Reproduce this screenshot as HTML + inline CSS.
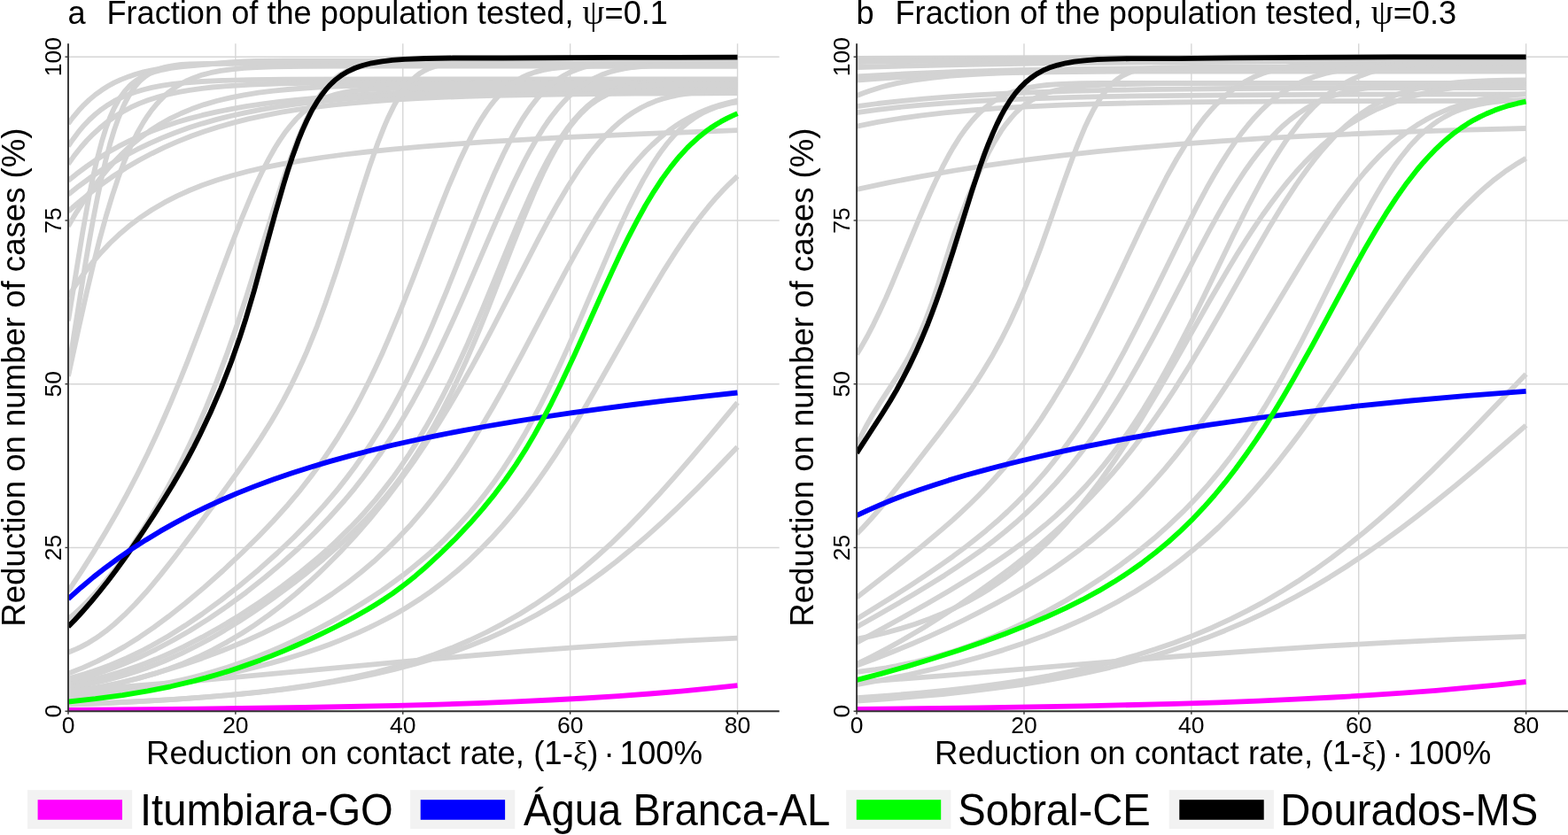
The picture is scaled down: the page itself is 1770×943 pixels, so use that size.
<!DOCTYPE html>
<html><head><meta charset="utf-8"><title>Reduction on number of cases</title><style>html,body{margin:0;padding:0;background:#fff;overflow:hidden}svg{display:block}</style></head><body>
<svg width="1770" height="943" viewBox="0 0 1770 943" font-family='"Liberation Sans", Arial, Helvetica, sans-serif'>
<defs><clipPath id="ca"><rect x="77.00" y="49.20" width="802.70" height="754.00"/></clipPath><clipPath id="cb"><rect x="967.10" y="49.20" width="802.90" height="754.00"/></clipPath></defs>
<rect width="1770" height="943" fill="#fff"/>
<line x1="77.00" y1="803.20" x2="879.70" y2="803.20" stroke="#d6d6d6" stroke-width="1.4"/>
<line x1="77.00" y1="618.45" x2="879.70" y2="618.45" stroke="#d6d6d6" stroke-width="1.4"/>
<line x1="77.00" y1="433.70" x2="879.70" y2="433.70" stroke="#d6d6d6" stroke-width="1.4"/>
<line x1="77.00" y1="248.95" x2="879.70" y2="248.95" stroke="#d6d6d6" stroke-width="1.4"/>
<line x1="77.00" y1="64.20" x2="879.70" y2="64.20" stroke="#d6d6d6" stroke-width="1.4"/>
<line x1="77.00" y1="49.20" x2="77.00" y2="803.20" stroke="#d6d6d6" stroke-width="1.4"/>
<line x1="265.88" y1="49.20" x2="265.88" y2="803.20" stroke="#d6d6d6" stroke-width="1.4"/>
<line x1="454.76" y1="49.20" x2="454.76" y2="803.20" stroke="#d6d6d6" stroke-width="1.4"/>
<line x1="643.64" y1="49.20" x2="643.64" y2="803.20" stroke="#d6d6d6" stroke-width="1.4"/>
<line x1="832.52" y1="49.20" x2="832.52" y2="803.20" stroke="#d6d6d6" stroke-width="1.4"/>
<g clip-path="url(#ca)">
<path d="M77.0,139.8 L81.7,133.4 L88.8,124.8 L93.5,119.7 L100.6,112.9 L107.7,106.9 L114.8,101.8 L121.9,97.3 L128.9,93.4 L136.0,90.1 L145.5,86.4 L152.6,84.0 L162.0,81.4 L171.4,79.3 L183.2,77.2 L195.1,75.5 L206.9,74.3 L228.1,72.7 L254.1,71.6 L284.8,70.8 L324.9,70.4 L433.5,70.1 L832.5,70.1" fill="none" stroke="#d3d3d3" stroke-width="5.8" stroke-linejoin="round" stroke-linecap="butt"/>
<path d="M77.0,165.2 L81.7,158.2 L88.8,148.7 L93.5,143.1 L100.6,135.5 L107.7,129.0 L114.8,123.3 L121.9,118.4 L128.9,114.2 L136.0,110.6 L145.5,106.6 L152.6,104.0 L162.0,101.2 L171.4,98.9 L183.2,96.7 L195.1,94.9 L206.9,93.6 L228.1,92.0 L251.7,90.9 L282.4,90.1 L322.5,89.6 L428.8,89.4 L832.5,89.3" fill="none" stroke="#d3d3d3" stroke-width="5.8" stroke-linejoin="round" stroke-linecap="butt"/>
<path d="M77.0,185.2 L84.1,175.4 L91.2,166.5 L98.2,158.5 L105.3,151.3 L112.4,144.8 L121.9,137.1 L128.9,132.1 L138.4,126.3 L147.8,121.2 L157.3,116.9 L166.7,113.3 L178.5,109.5 L190.3,106.4 L202.1,103.8 L213.9,101.8 L228.1,99.8 L239.9,98.5 L254.1,97.3 L282.4,95.6 L317.8,94.4 L360.3,93.6 L409.9,93.3 L478.4,93.1 L832.5,93.0" fill="none" stroke="#d3d3d3" stroke-width="5.8" stroke-linejoin="round" stroke-linecap="butt"/>
<path d="M77.0,204.1 L86.4,196.4 L98.2,187.6 L110.1,179.5 L121.9,172.1 L133.7,165.4 L145.5,159.4 L157.3,153.9 L171.4,148.0 L185.6,142.7 L199.8,138.0 L213.9,133.9 L228.1,130.2 L244.6,126.4 L261.2,123.1 L277.7,120.2 L296.6,117.4 L315.5,114.9 L334.3,112.8 L355.6,110.8 L376.8,109.1 L400.5,107.5 L426.4,106.0 L454.8,104.7 L483.1,103.6 L546.8,101.9 L624.8,100.5 L719.2,99.6 L832.5,99.0" fill="none" stroke="#d3d3d3" stroke-width="5.8" stroke-linejoin="round" stroke-linecap="butt"/>
<path d="M77.0,219.7 L88.8,210.3 L103.0,199.9 L114.8,191.9 L128.9,183.0 L140.7,176.2 L154.9,168.7 L169.1,161.8 L183.2,155.6 L197.4,150.0 L213.9,144.1 L228.1,139.6 L244.6,134.9 L261.2,130.8 L277.7,127.1 L294.2,123.9 L313.1,120.7 L332.0,117.9 L350.9,115.5 L372.1,113.3 L393.4,111.3 L417.0,109.5 L440.6,108.1 L466.6,106.7 L492.5,105.7 L553.9,103.9 L624.8,102.7 L714.5,101.9 L832.5,101.4" fill="none" stroke="#d3d3d3" stroke-width="5.8" stroke-linejoin="round" stroke-linecap="butt"/>
<path d="M77.0,238.7 L88.8,228.5 L103.0,217.0 L114.8,208.1 L128.9,198.2 L143.1,189.1 L157.3,180.8 L171.4,173.3 L185.6,166.4 L199.8,160.1 L216.3,153.5 L230.5,148.5 L247.0,143.2 L263.5,138.6 L280.0,134.4 L298.9,130.3 L317.8,126.7 L336.7,123.7 L355.6,121.0 L376.8,118.4 L398.1,116.3 L421.7,114.3 L445.3,112.6 L471.3,111.1 L497.3,109.9 L525.6,108.9 L558.6,107.9 L629.5,106.6 L716.8,105.7 L832.5,105.2" fill="none" stroke="#d3d3d3" stroke-width="5.8" stroke-linejoin="round" stroke-linecap="butt"/>
<path d="M77.0,255.4 L86.4,239.6 L95.9,225.0 L105.3,211.5 L114.8,199.2 L124.2,188.0 L128.9,182.8 L136.0,175.4 L145.5,166.4 L150.2,162.3 L157.3,156.5 L169.1,147.8 L180.9,140.2 L192.7,133.6 L204.5,128.0 L216.3,123.1 L230.5,118.1 L244.6,114.0 L261.2,110.1 L275.3,107.3 L291.9,104.7 L308.4,102.6 L324.9,101.0 L343.8,99.5 L365.0,98.2 L386.3,97.3 L412.3,96.4 L466.6,95.4 L539.8,94.8 L641.3,94.6 L832.5,94.5" fill="none" stroke="#d3d3d3" stroke-width="5.8" stroke-linejoin="round" stroke-linecap="butt"/>
<path d="M77.0,362.4 L93.5,261.0 L100.6,221.6 L105.3,198.4 L110.1,177.9 L114.8,160.2 L119.5,145.1 L124.2,132.5 L128.9,122.0 L133.7,113.3 L136.0,109.6 L140.7,103.1 L145.5,97.9 L147.8,95.6 L152.6,91.8 L154.9,90.1 L159.6,87.2 L164.4,84.9 L169.1,82.9 L176.2,80.6 L183.2,78.8 L192.7,77.0 L204.5,75.4 L223.4,73.5 L258.8,70.4 L275.3,69.4 L289.5,68.9 L322.5,68.6 L832.5,68.6" fill="none" stroke="#d3d3d3" stroke-width="5.8" stroke-linejoin="round" stroke-linecap="butt"/>
<path d="M77.0,418.7 L95.9,300.8 L100.6,273.1 L105.3,246.9 L110.1,222.5 L114.8,200.3 L119.5,180.2 L124.2,162.4 L128.9,146.9 L133.7,133.4 L138.4,122.0 L140.7,117.0 L145.5,108.1 L150.2,100.8 L152.6,97.7 L157.3,92.2 L159.6,89.9 L164.4,86.0 L169.1,82.8 L173.8,80.3 L178.5,78.3 L185.6,76.1 L190.3,75.0 L197.4,73.8 L204.5,73.0 L213.9,72.4 L235.2,71.8 L287.1,71.6 L832.5,71.6" fill="none" stroke="#d3d3d3" stroke-width="5.8" stroke-linejoin="round" stroke-linecap="butt"/>
<path d="M77.0,425.0 L88.8,370.6 L98.2,328.6 L105.3,298.8 L112.4,270.8 L119.5,244.9 L126.6,221.3 L133.7,200.1 L140.7,181.3 L147.8,164.7 L154.9,150.3 L162.0,137.9 L166.7,130.7 L171.4,124.1 L176.2,118.3 L180.9,113.1 L185.6,108.4 L190.3,104.3 L195.1,100.7 L199.8,97.4 L204.5,94.6 L211.6,90.9 L218.7,87.9 L228.1,84.6 L237.5,82.2 L249.4,79.9 L261.2,78.3 L275.3,76.9 L289.5,76.1 L308.4,75.4 L343.8,74.8 L395.7,74.6 L832.5,74.5" fill="none" stroke="#d3d3d3" stroke-width="5.8" stroke-linejoin="round" stroke-linecap="butt"/>
<path d="M77.0,335.1 L86.4,320.5 L95.9,307.3 L105.3,295.3 L114.8,284.4 L124.2,274.5 L136.0,263.4 L147.8,253.6 L159.6,244.8 L171.4,237.0 L185.6,228.7 L199.8,221.4 L213.9,215.0 L228.1,209.3 L244.6,203.5 L261.2,198.5 L280.0,193.5 L298.9,189.1 L317.8,185.3 L339.1,181.6 L362.7,178.0 L388.7,174.5 L414.6,171.5 L443.0,168.6 L476.0,165.6 L511.4,162.9 L549.2,160.2 L589.3,157.8 L631.8,155.4 L676.7,153.3 L726.3,151.1 L832.5,147.2" fill="none" stroke="#d3d3d3" stroke-width="5.8" stroke-linejoin="round" stroke-linecap="butt"/>
<path d="M77.0,667.7 L91.2,646.4 L105.3,624.1 L119.5,600.6 L131.3,580.1 L143.1,558.6 L154.9,536.0 L166.7,512.2 L176.2,492.1 L185.6,471.0 L192.7,454.7 L202.1,432.0 L211.6,408.4 L228.1,365.2 L258.8,282.7 L273.0,246.3 L284.8,218.0 L291.9,202.4 L296.6,192.6 L303.7,178.9 L310.7,166.5 L315.5,158.9 L322.5,148.7 L327.3,142.6 L334.3,134.5 L341.4,127.5 L348.5,121.7 L355.6,116.9 L362.7,113.0 L369.8,109.8 L374.5,108.1 L379.2,106.6 L388.7,104.3 L398.1,102.7 L409.9,101.4 L424.1,100.5 L445.3,99.9 L478.4,99.7 L832.5,99.7" fill="none" stroke="#d3d3d3" stroke-width="5.8" stroke-linejoin="round" stroke-linecap="butt"/>
<path d="M77.0,699.1 L84.1,693.1 L91.2,686.6 L98.2,679.7 L107.7,669.7 L114.8,661.7 L124.2,650.2 L131.3,641.2 L140.7,628.4 L147.8,618.3 L157.3,604.1 L166.7,589.3 L173.8,577.6 L183.2,561.4 L190.3,548.6 L199.8,530.8 L206.9,516.8 L213.9,502.2 L221.0,486.9 L232.8,459.9 L244.6,430.6 L256.4,399.0 L265.9,372.0 L277.7,336.3 L287.1,306.4 L308.4,237.8 L317.8,208.3 L327.3,180.7 L332.0,167.9 L336.7,155.8 L341.4,144.6 L346.2,134.2 L350.9,124.8 L355.6,116.4 L360.3,108.9 L365.0,102.4 L369.8,96.7 L372.1,94.2 L376.8,89.8 L381.6,86.1 L383.9,84.5 L388.7,81.7 L393.4,79.5 L400.5,77.0 L407.5,75.2 L414.6,74.1 L421.7,73.4 L431.2,72.8 L445.3,72.5 L468.9,72.3 L832.5,72.3" fill="none" stroke="#d3d3d3" stroke-width="5.8" stroke-linejoin="round" stroke-linecap="butt"/>
<path d="M77.0,736.7 L86.4,732.9 L91.2,730.6 L98.2,726.9 L107.7,721.1 L112.4,717.9 L119.5,712.7 L128.9,705.0 L140.7,694.2 L152.6,682.3 L164.4,669.3 L171.4,661.1 L180.9,649.6 L197.4,628.7 L218.7,600.6 L247.0,562.3 L268.2,533.0 L282.4,512.8 L294.2,495.1 L306.0,476.2 L313.1,464.1 L320.2,451.4 L327.3,437.9 L334.3,423.5 L341.4,408.2 L346.2,397.4 L353.2,380.2 L358.0,368.1 L367.4,342.5 L379.2,307.8 L388.7,278.3 L407.5,217.8 L417.0,188.6 L426.4,161.7 L433.5,143.6 L438.2,132.7 L443.0,122.9 L445.3,118.3 L450.0,110.0 L454.8,102.8 L459.5,96.5 L464.2,91.2 L468.9,86.8 L473.6,83.1 L478.4,80.2 L483.1,77.8 L490.2,75.2 L494.9,74.0 L502.0,72.7 L509.1,71.9 L518.5,71.3 L532.7,71.0 L553.9,70.9 L832.5,70.9" fill="none" stroke="#d3d3d3" stroke-width="5.8" stroke-linejoin="round" stroke-linecap="butt"/>
<path d="M77.0,760.6 L93.5,754.1 L110.1,746.7 L124.2,739.4 L140.7,730.1 L157.3,719.7 L173.8,708.4 L190.3,696.2 L209.2,681.3 L230.5,663.4 L251.7,644.5 L273.0,624.5 L291.9,605.8 L308.4,588.5 L324.9,570.2 L339.1,553.3 L353.2,535.1 L362.7,522.2 L372.1,508.4 L381.6,493.8 L391.0,478.3 L400.5,461.7 L407.5,448.5 L417.0,429.8 L424.1,415.1 L431.2,399.7 L438.2,383.6 L452.4,349.6 L466.6,313.6 L494.9,239.4 L506.7,209.8 L518.5,182.3 L528.0,162.2 L535.0,148.6 L539.8,140.3 L544.5,132.6 L549.2,125.4 L553.9,118.9 L558.6,113.0 L563.4,107.6 L570.4,100.6 L575.2,96.6 L582.3,91.6 L589.3,87.4 L596.4,84.2 L603.5,81.6 L612.9,79.1 L622.4,77.4 L631.8,76.3 L641.3,75.6 L650.7,75.1 L674.3,74.7 L832.5,74.5" fill="none" stroke="#d3d3d3" stroke-width="5.8" stroke-linejoin="round" stroke-linecap="butt"/>
<path d="M77.0,766.5 L95.9,761.1 L105.3,758.1 L114.8,754.7 L124.2,751.1 L133.7,747.2 L143.1,743.1 L152.6,738.7 L162.0,734.0 L171.4,729.0 L190.3,718.2 L209.2,706.3 L228.1,693.5 L249.4,677.9 L270.6,661.2 L291.9,643.4 L313.1,624.5 L332.0,606.5 L348.5,589.6 L365.0,571.6 L374.5,560.7 L381.6,552.1 L391.0,540.1 L400.5,527.5 L409.9,514.1 L419.3,500.0 L428.8,484.9 L435.9,473.0 L445.3,456.3 L452.4,443.1 L459.5,429.2 L468.9,409.8 L478.4,389.4 L487.8,367.9 L504.3,328.3 L535.0,251.2 L546.8,222.2 L558.6,194.7 L568.1,174.3 L575.2,160.1 L582.3,147.0 L589.3,135.1 L594.1,127.8 L598.8,121.0 L605.9,111.9 L610.6,106.5 L617.7,99.3 L622.4,95.2 L629.5,89.7 L636.6,85.3 L643.6,81.6 L650.7,78.7 L657.8,76.3 L667.2,74.0 L676.7,72.4 L686.1,71.3 L695.6,70.5 L707.4,70.0 L719.2,69.7 L749.9,69.4 L832.5,69.4" fill="none" stroke="#d3d3d3" stroke-width="5.8" stroke-linejoin="round" stroke-linecap="butt"/>
<path d="M77.0,770.2 L88.8,767.1 L98.2,764.3 L117.1,758.3 L128.9,754.0 L138.4,750.3 L157.3,742.3 L176.2,733.3 L195.1,723.3 L213.9,712.5 L235.2,699.1 L256.4,684.7 L277.7,669.1 L298.9,652.3 L317.8,636.4 L336.7,619.5 L346.2,610.5 L355.6,601.2 L372.1,584.0 L388.7,565.5 L400.5,551.3 L409.9,539.3 L419.3,526.6 L428.8,513.3 L438.2,499.2 L447.7,484.4 L457.1,468.7 L466.6,452.2 L476.0,434.8 L485.5,416.5 L494.9,397.3 L504.3,377.3 L513.8,356.6 L523.2,335.3 L556.3,258.6 L568.1,231.8 L579.9,206.3 L591.7,182.4 L598.8,169.2 L605.9,156.8 L612.9,145.4 L617.7,138.3 L622.4,131.7 L629.5,122.7 L636.6,114.6 L643.6,107.5 L650.7,101.3 L657.8,96.0 L664.9,91.5 L672.0,87.8 L679.1,84.6 L688.5,81.3 L695.6,79.4 L705.0,77.4 L714.5,76.0 L723.9,75.0 L733.4,74.3 L745.2,73.8 L775.9,73.2 L832.5,73.1" fill="none" stroke="#d3d3d3" stroke-width="5.8" stroke-linejoin="round" stroke-linecap="butt"/>
<path d="M77.0,773.4 L88.8,771.1 L100.6,768.4 L121.9,763.0 L133.7,759.5 L143.1,756.5 L154.9,752.4 L164.4,749.0 L176.2,744.3 L185.6,740.3 L195.1,736.1 L206.9,730.6 L228.1,719.7 L249.4,707.8 L270.6,694.9 L282.4,687.3 L294.2,679.4 L306.0,671.2 L317.8,662.6 L339.1,646.3 L350.9,636.6 L360.3,628.6 L369.8,620.3 L379.2,611.6 L395.7,595.4 L405.2,585.5 L412.3,577.7 L424.1,564.1 L433.5,552.4 L443.0,540.1 L452.4,526.9 L461.8,513.0 L471.3,498.1 L480.7,482.3 L490.2,465.4 L499.6,447.6 L509.1,428.7 L518.5,408.8 L528.0,388.0 L544.5,349.5 L575.2,274.9 L587.0,246.8 L598.8,220.1 L605.9,204.9 L610.6,195.3 L617.7,181.7 L624.8,169.0 L631.8,157.5 L636.6,150.4 L641.3,143.8 L648.4,134.9 L655.4,127.1 L662.5,120.3 L667.2,116.4 L674.3,111.2 L679.1,108.3 L686.1,104.5 L693.2,101.4 L700.3,98.9 L707.4,96.9 L716.8,94.9 L723.9,93.8 L733.4,92.8 L742.8,92.0 L754.6,91.5 L782.9,90.9 L832.5,90.8" fill="none" stroke="#d3d3d3" stroke-width="5.8" stroke-linejoin="round" stroke-linecap="butt"/>
<path d="M77.0,776.4 L88.8,774.5 L100.6,772.3 L112.4,769.8 L121.9,767.6 L133.7,764.5 L143.1,761.7 L154.9,758.0 L164.4,754.7 L176.2,750.3 L185.6,746.5 L204.5,738.1 L213.9,733.5 L225.7,727.5 L235.2,722.4 L247.0,715.7 L258.8,708.6 L270.6,701.2 L282.4,693.6 L294.2,685.6 L308.4,675.6 L320.2,667.0 L332.0,658.1 L343.8,648.9 L365.0,631.4 L376.8,621.1 L386.3,612.5 L395.7,603.6 L405.2,594.2 L414.6,584.4 L421.7,576.7 L433.5,563.0 L443.0,551.4 L452.4,539.0 L461.8,525.8 L471.3,511.6 L480.7,496.5 L490.2,480.2 L499.6,462.8 L509.1,444.2 L516.1,429.5 L525.6,408.9 L535.0,387.1 L542.1,370.1 L551.6,346.7 L579.9,274.0 L591.7,244.4 L603.5,216.4 L612.9,195.7 L620.0,181.4 L627.1,168.3 L634.2,156.5 L638.9,149.3 L643.6,142.7 L650.7,133.9 L655.4,128.7 L662.5,121.9 L667.2,117.9 L674.3,112.9 L679.1,110.1 L686.1,106.5 L693.2,103.7 L700.3,101.5 L707.4,99.8 L714.5,98.5 L721.6,97.5 L731.0,96.7 L749.9,95.7 L775.9,95.3 L832.5,95.2" fill="none" stroke="#d3d3d3" stroke-width="5.8" stroke-linejoin="round" stroke-linecap="butt"/>
<path d="M77.0,780.8 L98.2,778.0 L117.1,774.8 L136.0,771.0 L154.9,766.4 L173.8,760.9 L190.3,755.4 L206.9,749.1 L223.4,742.0 L239.9,734.0 L256.4,725.1 L273.0,715.3 L287.1,706.1 L303.7,694.4 L317.8,683.7 L334.3,670.2 L348.5,657.8 L358.0,649.1 L367.4,640.0 L383.9,623.4 L400.5,605.6 L417.0,586.6 L433.5,566.4 L450.0,544.8 L466.6,521.8 L480.7,500.8 L494.9,478.7 L506.7,459.4 L518.5,439.3 L532.7,414.1 L544.5,392.3 L556.3,370.0 L608.2,269.1 L620.0,247.1 L629.5,230.2 L641.3,210.3 L653.1,191.9 L660.2,181.8 L664.9,175.3 L672.0,166.3 L676.7,160.7 L683.8,152.8 L690.9,145.7 L697.9,139.3 L707.4,131.8 L714.5,127.0 L723.9,121.5 L731.0,118.0 L740.4,114.1 L747.5,111.7 L757.0,109.2 L766.4,107.2 L778.2,105.4 L790.0,104.1 L801.8,103.3 L816.0,102.6 L832.5,102.2" fill="none" stroke="#d3d3d3" stroke-width="5.8" stroke-linejoin="round" stroke-linecap="butt"/>
<path d="M77.0,783.8 L103.0,778.7 L128.9,772.8 L154.9,766.3 L178.5,759.6 L204.5,751.5 L228.1,743.4 L251.7,734.5 L275.3,724.8 L296.6,715.2 L317.8,704.7 L336.7,694.5 L355.6,683.3 L365.0,677.3 L374.5,671.0 L391.0,659.2 L407.5,646.3 L421.7,634.3 L435.9,621.2 L450.0,607.1 L464.2,591.9 L476.0,578.2 L490.2,560.5 L502.0,544.8 L513.8,528.1 L525.6,510.4 L535.0,495.5 L546.8,476.1 L556.3,460.0 L568.1,439.1 L589.3,399.8 L636.6,310.0 L648.4,288.3 L660.2,267.3 L672.0,247.4 L683.8,228.7 L695.6,211.4 L707.4,195.5 L714.5,186.8 L721.6,178.6 L728.6,171.0 L735.7,164.0 L742.8,157.5 L749.9,151.5 L757.0,146.1 L764.1,141.2 L771.1,136.7 L780.6,131.5 L787.7,128.0 L797.1,124.0 L804.2,121.3 L813.6,118.3 L823.1,115.8 L832.5,113.6" fill="none" stroke="#d3d3d3" stroke-width="5.8" stroke-linejoin="round" stroke-linecap="butt"/>
<path d="M77.0,785.2 L93.5,784.1 L107.7,783.0 L121.9,781.6 L136.0,780.0 L150.2,778.1 L164.4,775.9 L178.5,773.4 L190.3,771.1 L204.5,768.0 L216.3,765.2 L230.5,761.5 L242.3,758.1 L256.4,753.7 L268.2,749.7 L280.0,745.5 L291.9,741.0 L303.7,736.2 L317.8,730.1 L332.0,723.6 L343.8,717.9 L358.0,710.7 L369.8,704.4 L383.9,696.5 L395.7,689.5 L407.5,682.3 L419.3,674.7 L431.2,666.8 L443.0,658.4 L454.8,649.7 L464.2,642.3 L476.0,632.6 L485.5,624.5 L494.9,615.9 L502.0,609.1 L516.1,594.7 L530.3,579.1 L542.1,564.9 L549.2,555.8 L556.3,546.3 L568.1,529.4 L579.9,511.1 L591.7,491.3 L601.1,474.4 L610.6,456.5 L620.0,437.6 L631.8,412.7 L641.3,391.9 L650.7,370.3 L690.9,276.3 L700.3,255.1 L709.7,234.9 L719.2,216.1 L726.3,202.9 L735.7,186.9 L742.8,176.0 L747.5,169.4 L752.2,163.2 L757.0,157.5 L761.7,152.2 L766.4,147.4 L771.1,143.0 L775.9,139.0 L782.9,133.8 L787.7,130.8 L794.7,126.8 L799.5,124.6 L806.5,121.7 L811.3,120.1 L818.4,118.1 L825.4,116.5 L832.5,115.3" fill="none" stroke="#d3d3d3" stroke-width="5.8" stroke-linejoin="round" stroke-linecap="butt"/>
<path d="M77.0,789.5 L112.4,785.4 L147.8,780.7 L183.2,775.2 L216.3,769.3 L247.0,763.1 L277.7,756.2 L306.0,748.9 L320.2,744.9 L334.3,740.6 L348.5,736.0 L360.3,732.0 L372.1,727.7 L383.9,723.1 L405.2,714.1 L417.0,708.7 L426.4,704.0 L438.2,697.9 L447.7,692.7 L457.1,687.2 L466.6,681.3 L476.0,675.2 L485.5,668.6 L494.9,661.7 L502.0,656.3 L516.1,644.7 L528.0,634.3 L542.1,620.7 L553.9,608.6 L568.1,592.9 L579.9,578.9 L591.7,563.9 L603.5,548.1 L615.3,531.4 L627.1,513.8 L638.9,495.4 L650.7,476.2 L662.5,456.4 L674.3,436.0 L716.8,360.9 L733.4,332.2 L749.9,304.6 L764.1,282.3 L773.5,268.3 L782.9,255.0 L792.4,242.5 L799.5,233.7 L808.9,222.7 L816.0,215.0 L823.1,207.8 L832.5,198.9" fill="none" stroke="#d3d3d3" stroke-width="5.8" stroke-linejoin="round" stroke-linecap="butt"/>
<path d="M77.0,795.6 L121.9,793.8 L162.0,791.9 L199.8,789.7 L232.8,787.2 L263.5,784.5 L294.2,781.3 L322.5,777.8 L350.9,773.6 L376.8,769.1 L400.5,764.4 L424.1,759.0 L447.7,752.8 L468.9,746.4 L490.2,739.2 L511.4,731.1 L530.3,723.0 L549.2,714.0 L568.1,704.1 L587.0,693.2 L603.5,682.8 L622.4,669.8 L638.9,657.5 L655.4,644.2 L674.3,628.0 L690.9,612.8 L707.4,596.7 L723.9,579.8 L742.8,559.6 L761.7,538.4 L780.6,516.6 L801.8,491.5 L832.5,454.6" fill="none" stroke="#d3d3d3" stroke-width="5.8" stroke-linejoin="round" stroke-linecap="butt"/>
<path d="M77.0,795.7 L119.5,794.0 L157.3,792.2 L192.7,790.2 L228.1,787.7 L258.8,785.2 L289.5,782.1 L317.8,778.9 L346.2,775.1 L372.1,771.0 L398.1,766.3 L421.7,761.5 L445.3,756.0 L468.9,749.7 L490.2,743.4 L511.4,736.3 L530.3,729.4 L549.2,721.8 L568.1,713.4 L587.0,704.2 L605.9,694.2 L624.8,683.3 L643.6,671.5 L662.5,658.8 L679.1,646.9 L695.6,634.2 L714.5,618.8 L731.0,604.6 L749.9,587.6 L768.8,569.7 L787.7,551.1 L808.9,529.4 L832.5,504.7" fill="none" stroke="#d3d3d3" stroke-width="5.8" stroke-linejoin="round" stroke-linecap="butt"/>
<path d="M77.0,780.0 L147.8,774.8 L221.0,768.8 L291.9,762.4 L480.7,744.9 L537.4,740.0 L589.3,735.7 L650.7,731.1 L709.7,727.2 L771.1,723.7 L832.5,720.6" fill="none" stroke="#d3d3d3" stroke-width="5.8" stroke-linejoin="round" stroke-linecap="butt"/>
<path d="M77.0,707.7 L84.1,700.5 L93.5,690.2 L103.0,679.4 L112.4,668.0 L121.9,656.0 L131.3,643.5 L140.7,630.5 L150.2,617.0 L162.0,599.5 L173.8,581.5 L185.6,562.8 L195.1,547.3 L204.5,531.1 L211.6,518.3 L218.7,505.0 L225.7,491.0 L237.5,466.0 L249.4,438.6 L256.4,420.8 L261.2,408.3 L270.6,381.4 L277.7,359.3 L287.1,327.5 L310.7,240.9 L320.2,208.0 L324.9,192.7 L329.6,178.3 L336.7,158.7 L341.4,147.1 L346.2,136.5 L350.9,127.0 L353.2,122.7 L358.0,114.7 L362.7,107.8 L367.4,101.7 L372.1,96.4 L374.5,94.0 L379.2,89.7 L386.3,84.4 L393.4,80.3 L400.5,77.0 L405.2,75.2 L409.9,73.7 L419.3,71.3 L431.2,69.3 L443.0,67.9 L457.1,66.9 L480.7,66.0 L511.4,65.5 L568.1,65.5 L693.2,64.9 L832.5,64.7" fill="none" stroke="#000000" stroke-width="5.8" stroke-linejoin="round" stroke-linecap="butt"/>
<path d="M77.0,676.3 L91.2,663.7 L105.3,651.9 L119.5,640.8 L133.7,630.4 L147.8,620.6 L164.4,609.9 L180.9,599.9 L197.4,590.6 L213.9,581.9 L232.8,572.6 L249.4,565.0 L268.2,556.9 L287.1,549.4 L308.4,541.5 L329.6,534.2 L350.9,527.4 L372.1,521.1 L395.7,514.6 L419.3,508.5 L443.0,502.8 L468.9,497.0 L494.9,491.6 L523.2,486.1 L551.6,481.0 L582.3,475.9 L612.9,471.0 L646.0,466.2 L679.1,461.6 L714.5,457.0 L752.2,452.4 L792.4,447.9 L832.5,443.5" fill="none" stroke="#0000ff" stroke-width="5.8" stroke-linejoin="round" stroke-linecap="butt"/>
<path d="M77.0,792.5 L107.7,789.2 L138.4,785.1 L166.7,780.4 L192.7,775.3 L218.7,769.1 L232.8,765.4 L244.6,762.0 L258.8,757.7 L270.6,753.8 L294.2,745.4 L306.0,740.9 L320.2,735.1 L334.3,729.0 L348.5,722.6 L362.7,715.9 L376.8,709.0 L391.0,701.7 L402.8,695.2 L414.6,688.5 L424.1,682.7 L433.5,676.7 L443.0,670.3 L452.4,663.4 L459.5,658.0 L468.9,650.4 L478.4,642.3 L494.9,627.2 L513.8,608.7 L530.3,591.3 L544.5,575.2 L558.6,557.8 L570.4,542.0 L582.3,524.9 L594.1,506.4 L603.5,490.4 L612.9,473.4 L622.4,455.3 L631.8,436.2 L648.4,400.9 L679.1,332.5 L690.9,306.6 L700.3,286.5 L709.7,267.3 L719.2,249.1 L728.6,232.0 L738.1,216.3 L747.5,201.9 L757.0,188.9 L766.4,177.2 L775.9,166.9 L780.6,162.3 L787.7,155.8 L797.1,148.2 L801.8,144.8 L808.9,140.2 L813.6,137.4 L820.7,133.6 L825.4,131.3 L832.5,128.2" fill="none" stroke="#00ff00" stroke-width="5.8" stroke-linejoin="round" stroke-linecap="butt"/>
<path d="M77.0,801.8 L221.0,800.7 L343.8,799.0 L447.7,796.9 L494.9,795.6 L539.8,794.1 L582.3,792.4 L622.4,790.5 L660.2,788.5 L697.9,786.1 L733.4,783.5 L768.8,780.6 L801.8,777.4 L832.5,774.2" fill="none" stroke="#ff00ff" stroke-width="5.8" stroke-linejoin="round" stroke-linecap="butt"/>
</g>
<line x1="77.00" y1="49.20" x2="77.00" y2="804.10" stroke="#333333" stroke-width="1.9"/>
<line x1="76.10" y1="803.20" x2="879.70" y2="803.20" stroke="#333333" stroke-width="1.9"/>
<line x1="73.50" y1="803.20" x2="77.00" y2="803.20" stroke="#333333" stroke-width="1.4"/>
<line x1="73.50" y1="618.45" x2="77.00" y2="618.45" stroke="#333333" stroke-width="1.4"/>
<line x1="73.50" y1="433.70" x2="77.00" y2="433.70" stroke="#333333" stroke-width="1.4"/>
<line x1="73.50" y1="248.95" x2="77.00" y2="248.95" stroke="#333333" stroke-width="1.4"/>
<line x1="73.50" y1="64.20" x2="77.00" y2="64.20" stroke="#333333" stroke-width="1.4"/>
<line x1="77.00" y1="803.20" x2="77.00" y2="806.70" stroke="#333333" stroke-width="1.4"/>
<line x1="265.88" y1="803.20" x2="265.88" y2="806.70" stroke="#333333" stroke-width="1.4"/>
<line x1="454.76" y1="803.20" x2="454.76" y2="806.70" stroke="#333333" stroke-width="1.4"/>
<line x1="643.64" y1="803.20" x2="643.64" y2="806.70" stroke="#333333" stroke-width="1.4"/>
<line x1="832.52" y1="803.20" x2="832.52" y2="806.70" stroke="#333333" stroke-width="1.4"/>
<text x="0" y="0" transform="translate(69.00,803.20) rotate(-90)" text-anchor="middle" font-size="26.5" fill="#000">0</text>
<text x="0" y="0" transform="translate(69.00,618.45) rotate(-90)" text-anchor="middle" font-size="26.5" fill="#000">25</text>
<text x="0" y="0" transform="translate(69.00,433.70) rotate(-90)" text-anchor="middle" font-size="26.5" fill="#000">50</text>
<text x="0" y="0" transform="translate(69.00,248.95) rotate(-90)" text-anchor="middle" font-size="26.5" fill="#000">75</text>
<text x="0" y="0" transform="translate(69.00,64.20) rotate(-90)" text-anchor="middle" font-size="26.5" fill="#000">100</text>
<text x="77.00" y="828.3" text-anchor="middle" font-size="26.5" fill="#000">0</text>
<text x="265.88" y="828.3" text-anchor="middle" font-size="26.5" fill="#000">20</text>
<text x="454.76" y="828.3" text-anchor="middle" font-size="26.5" fill="#000">40</text>
<text x="643.64" y="828.3" text-anchor="middle" font-size="26.5" fill="#000">60</text>
<text x="832.52" y="828.3" text-anchor="middle" font-size="26.5" fill="#000">80</text>
<text transform="translate(27.70,707.70) rotate(-90)" x="0" y="0" font-size="36.6" fill="#000">Reduction on number of cases (%)</text>
<text x="165.00" y="862.5" font-size="36.6" fill="#000">Reduction on contact rate, (1-<tspan font-family='Liberation Serif', serif>ξ</tspan>)<tspan dx="6">·</tspan><tspan dx="6">100%</tspan></text>
<text x="76.50" y="27.1" font-size="36.2" fill="#000">a</text>
<text x="120.40" y="27.1" font-size="36.2" fill="#000">Fraction of the population tested, <tspan font-family='Liberation Serif', serif font-size="39.5">ψ</tspan><tspan dx="0.3">=0.1</tspan></text>
<line x1="967.10" y1="803.20" x2="1770.00" y2="803.20" stroke="#d6d6d6" stroke-width="1.4"/>
<line x1="967.10" y1="618.45" x2="1770.00" y2="618.45" stroke="#d6d6d6" stroke-width="1.4"/>
<line x1="967.10" y1="433.70" x2="1770.00" y2="433.70" stroke="#d6d6d6" stroke-width="1.4"/>
<line x1="967.10" y1="248.95" x2="1770.00" y2="248.95" stroke="#d6d6d6" stroke-width="1.4"/>
<line x1="967.10" y1="64.20" x2="1770.00" y2="64.20" stroke="#d6d6d6" stroke-width="1.4"/>
<line x1="967.10" y1="49.20" x2="967.10" y2="803.20" stroke="#d6d6d6" stroke-width="1.4"/>
<line x1="1155.98" y1="49.20" x2="1155.98" y2="803.20" stroke="#d6d6d6" stroke-width="1.4"/>
<line x1="1344.86" y1="49.20" x2="1344.86" y2="803.20" stroke="#d6d6d6" stroke-width="1.4"/>
<line x1="1533.74" y1="49.20" x2="1533.74" y2="803.20" stroke="#d6d6d6" stroke-width="1.4"/>
<line x1="1722.62" y1="49.20" x2="1722.62" y2="803.20" stroke="#d6d6d6" stroke-width="1.4"/>
<g clip-path="url(#cb)">
<path d="M967.1,66.0 L1106.4,65.3 L1269.3,64.8 L1722.6,64.3" fill="none" stroke="#d3d3d3" stroke-width="5.8" stroke-linejoin="round" stroke-linecap="butt"/>
<path d="M967.1,70.1 L1026.1,69.1 L1092.2,68.2 L1245.7,66.9 L1441.7,66.2 L1722.6,65.8" fill="none" stroke="#d3d3d3" stroke-width="5.8" stroke-linejoin="round" stroke-linecap="butt"/>
<path d="M967.1,76.0 L1028.5,74.3 L1094.6,72.9 L1167.8,71.7 L1250.4,70.8 L1342.5,70.1 L1446.4,69.5 L1722.6,68.9" fill="none" stroke="#d3d3d3" stroke-width="5.8" stroke-linejoin="round" stroke-linecap="butt"/>
<path d="M967.1,86.3 L1021.4,83.4 L1082.8,81.0 L1148.9,79.2 L1226.8,77.8 L1314.2,76.8 L1420.4,76.1 L1550.3,75.7 L1722.6,75.4" fill="none" stroke="#d3d3d3" stroke-width="5.8" stroke-linejoin="round" stroke-linecap="butt"/>
<path d="M967.1,90.7 L990.7,88.8 L1016.7,87.1 L1045.0,85.5 L1073.3,84.1 L1137.1,81.8 L1212.6,80.1 L1297.6,79.0 L1401.5,78.3 L1533.7,77.8 L1722.6,77.6" fill="none" stroke="#d3d3d3" stroke-width="5.8" stroke-linejoin="round" stroke-linecap="butt"/>
<path d="M967.1,108.1 L974.2,105.2 L981.3,102.7 L995.4,98.3 L1002.5,96.4 L1012.0,94.2 L1021.4,92.3 L1030.8,90.7 L1052.1,87.8 L1073.3,85.7 L1097.0,84.0 L1125.3,82.7 L1153.6,81.9 L1184.3,81.3 L1266.9,80.7 L1392.1,80.5 L1722.6,80.5" fill="none" stroke="#d3d3d3" stroke-width="5.8" stroke-linejoin="round" stroke-linecap="butt"/>
<path d="M967.1,120.2 L990.7,117.0 L1016.7,114.1 L1042.7,111.6 L1071.0,109.3 L1101.7,107.3 L1134.7,105.6 L1170.1,104.1 L1207.9,102.9 L1248.1,101.9 L1290.6,101.2 L1394.4,100.0 L1529.0,99.3 L1722.6,99.0" fill="none" stroke="#d3d3d3" stroke-width="5.8" stroke-linejoin="round" stroke-linecap="butt"/>
<path d="M967.1,127.1 L990.7,123.9 L1014.3,121.1 L1040.3,118.6 L1068.6,116.3 L1099.3,114.3 L1130.0,112.7 L1165.4,111.3 L1203.2,110.1 L1243.3,109.1 L1285.8,108.4 L1389.7,107.3 L1524.3,106.7 L1722.6,106.4" fill="none" stroke="#d3d3d3" stroke-width="5.8" stroke-linejoin="round" stroke-linecap="butt"/>
<path d="M967.1,142.7 L990.7,137.9 L1014.3,134.0 L1040.3,130.3 L1066.3,127.3 L1097.0,124.5 L1127.6,122.2 L1160.7,120.3 L1198.5,118.6 L1236.3,117.4 L1278.8,116.3 L1326.0,115.5 L1380.3,114.9 L1514.9,114.1 L1722.6,113.8" fill="none" stroke="#d3d3d3" stroke-width="5.8" stroke-linejoin="round" stroke-linecap="butt"/>
<path d="M967.1,213.9 L1002.5,206.3 L1040.3,199.1 L1078.1,192.5 L1115.8,186.6 L1156.0,180.9 L1196.1,175.9 L1238.6,171.2 L1283.5,166.8 L1330.7,162.8 L1377.9,159.4 L1427.5,156.2 L1479.4,153.4 L1533.7,151.0 L1592.8,148.7 L1656.5,146.7 L1722.6,145.0" fill="none" stroke="#d3d3d3" stroke-width="5.8" stroke-linejoin="round" stroke-linecap="butt"/>
<path d="M967.1,400.3 L971.8,392.6 L978.9,380.0 L986.0,366.3 L993.1,351.6 L1000.2,336.1 L1007.2,319.8 L1037.9,245.8 L1049.7,218.5 L1056.8,203.1 L1063.9,188.7 L1071.0,175.3 L1075.7,167.1 L1082.8,155.7 L1089.9,145.6 L1097.0,136.7 L1101.7,131.5 L1106.4,126.7 L1113.5,120.5 L1118.2,116.9 L1122.9,113.7 L1130.0,109.6 L1134.7,107.2 L1139.5,105.2 L1146.5,102.7 L1153.6,100.6 L1163.1,98.6 L1172.5,97.1 L1182.0,96.0 L1193.8,95.1 L1205.6,94.6 L1219.7,94.2 L1243.3,93.9 L1283.5,93.8 L1722.6,93.8" fill="none" stroke="#d3d3d3" stroke-width="5.8" stroke-linejoin="round" stroke-linecap="butt"/>
<path d="M967.1,503.0 L974.2,488.2 L978.9,479.2 L983.6,470.8 L993.1,455.4 L1012.0,426.4 L1021.4,410.8 L1026.1,402.3 L1030.8,393.1 L1037.9,378.0 L1045.0,361.0 L1052.1,341.9 L1059.2,320.7 L1073.3,275.6 L1078.1,261.6 L1085.2,242.2 L1092.2,224.4 L1099.3,207.7 L1108.8,186.9 L1115.8,172.6 L1122.9,159.6 L1130.0,148.2 L1134.7,141.4 L1141.8,132.6 L1146.5,127.4 L1153.6,120.9 L1160.7,115.5 L1167.8,111.2 L1174.9,107.7 L1179.6,105.8 L1184.3,104.1 L1193.8,101.5 L1203.2,99.6 L1215.0,98.0 L1226.8,96.9 L1243.3,95.9 L1262.2,95.2 L1304.7,94.3 L1366.1,93.9 L1722.6,93.8" fill="none" stroke="#d3d3d3" stroke-width="5.8" stroke-linejoin="round" stroke-linecap="butt"/>
<path d="M967.1,603.0 L974.2,595.8 L983.6,585.5 L993.1,574.6 L1002.5,563.2 L1026.1,533.5 L1061.5,487.7 L1080.4,462.4 L1094.6,442.4 L1101.7,431.9 L1108.8,420.8 L1120.6,401.2 L1130.0,384.0 L1139.5,365.3 L1148.9,344.8 L1158.3,322.6 L1165.4,304.7 L1174.9,279.5 L1184.3,253.0 L1200.8,205.6 L1210.3,179.4 L1217.4,161.1 L1224.4,144.3 L1229.2,134.1 L1233.9,124.8 L1238.6,116.5 L1243.3,109.1 L1248.1,102.7 L1252.8,97.2 L1257.5,92.6 L1262.2,88.8 L1266.9,85.7 L1271.7,83.3 L1276.4,81.3 L1283.5,79.3 L1288.2,78.3 L1295.3,77.3 L1302.4,76.7 L1311.8,76.3 L1347.2,76.0 L1722.6,76.0" fill="none" stroke="#d3d3d3" stroke-width="5.8" stroke-linejoin="round" stroke-linecap="butt"/>
<path d="M967.1,674.8 L1009.6,641.8 L1040.3,617.2 L1063.9,597.4 L1075.7,587.1 L1085.2,578.4 L1094.6,569.5 L1104.0,560.2 L1113.5,550.5 L1122.9,540.3 L1132.4,529.6 L1141.8,518.3 L1151.3,506.4 L1158.3,497.0 L1167.8,483.9 L1174.9,473.6 L1189.0,451.6 L1203.2,427.9 L1210.3,415.4 L1219.7,398.1 L1231.5,375.4 L1245.7,346.8 L1257.5,322.3 L1288.2,257.3 L1302.4,228.2 L1316.5,200.7 L1328.3,179.5 L1337.8,163.9 L1344.9,153.0 L1351.9,143.0 L1359.0,133.7 L1366.1,125.3 L1373.2,117.6 L1380.3,110.8 L1387.4,104.6 L1392.1,101.0 L1396.8,97.6 L1406.2,91.8 L1415.7,86.9 L1425.1,83.0 L1434.6,79.9 L1446.4,76.9 L1458.2,74.7 L1472.4,73.0 L1484.2,72.0 L1498.3,71.2 L1514.9,70.7 L1533.7,70.4 L1581.0,70.1 L1722.6,70.1" fill="none" stroke="#d3d3d3" stroke-width="5.8" stroke-linejoin="round" stroke-linecap="butt"/>
<path d="M967.1,699.0 L988.3,686.0 L1009.6,672.7 L1028.5,660.6 L1045.0,649.6 L1061.5,638.3 L1075.7,628.3 L1089.9,617.7 L1101.7,608.5 L1113.5,598.9 L1125.3,588.8 L1137.1,578.0 L1148.9,566.6 L1160.7,554.5 L1170.1,544.2 L1179.6,533.3 L1189.0,521.8 L1198.5,509.7 L1205.6,500.2 L1215.0,486.8 L1222.1,476.4 L1231.5,461.8 L1238.6,450.4 L1245.7,438.5 L1255.1,422.2 L1269.3,396.3 L1285.8,364.5 L1300.0,336.1 L1333.1,268.7 L1349.6,236.1 L1363.7,209.7 L1370.8,197.3 L1377.9,185.4 L1387.4,170.5 L1394.4,160.1 L1401.5,150.4 L1408.6,141.5 L1415.7,133.2 L1422.8,125.7 L1429.9,118.9 L1436.9,112.7 L1446.4,105.5 L1455.8,99.4 L1465.3,94.3 L1474.7,90.0 L1484.2,86.5 L1496.0,83.0 L1507.8,80.4 L1521.9,78.1 L1533.7,76.8 L1547.9,75.7 L1562.1,74.9 L1581.0,74.4 L1625.8,73.9 L1722.6,73.8" fill="none" stroke="#d3d3d3" stroke-width="5.8" stroke-linejoin="round" stroke-linecap="butt"/>
<path d="M967.1,707.9 L990.7,694.7 L1012.0,682.6 L1030.8,671.5 L1049.7,660.1 L1066.3,649.7 L1080.4,640.4 L1094.6,630.7 L1108.8,620.6 L1122.9,609.8 L1134.7,600.3 L1146.5,590.3 L1158.3,579.7 L1170.1,568.4 L1179.6,558.8 L1191.4,546.1 L1200.8,535.3 L1210.3,524.0 L1219.7,512.0 L1229.2,499.4 L1236.3,489.5 L1245.7,475.8 L1252.8,465.0 L1262.2,450.1 L1271.7,434.5 L1285.8,410.0 L1302.4,379.9 L1316.5,353.1 L1349.6,289.4 L1366.1,258.4 L1375.6,241.4 L1382.6,229.1 L1389.7,217.3 L1396.8,206.0 L1406.2,191.7 L1413.3,181.8 L1420.4,172.5 L1427.5,163.8 L1434.6,155.8 L1441.7,148.4 L1448.7,141.7 L1455.8,135.6 L1465.3,128.4 L1474.7,122.2 L1484.2,116.9 L1493.6,112.5 L1503.0,108.8 L1514.9,105.1 L1526.7,102.2 L1540.8,99.7 L1552.6,98.2 L1566.8,96.9 L1583.3,95.9 L1599.8,95.3 L1642.3,94.7 L1722.6,94.5" fill="none" stroke="#d3d3d3" stroke-width="5.8" stroke-linejoin="round" stroke-linecap="butt"/>
<path d="M967.1,725.6 L990.7,712.9 L1019.0,697.2 L1047.4,681.2 L1071.0,667.5 L1089.9,656.1 L1108.8,644.4 L1125.3,633.6 L1139.5,623.9 L1153.6,613.7 L1167.8,602.8 L1179.6,593.1 L1191.4,582.9 L1203.2,571.9 L1215.0,560.2 L1226.8,547.7 L1236.3,536.9 L1245.7,525.6 L1255.1,513.6 L1264.6,500.9 L1274.0,487.5 L1283.5,473.3 L1290.6,462.2 L1300.0,446.7 L1309.4,430.4 L1316.5,417.7 L1326.0,400.2 L1342.5,368.1 L1359.0,334.6 L1392.1,266.1 L1408.6,233.1 L1422.8,206.5 L1429.9,193.9 L1436.9,181.9 L1444.0,170.6 L1451.1,159.9 L1458.2,149.9 L1465.3,140.7 L1470.0,134.9 L1477.1,126.9 L1484.2,119.6 L1491.2,113.0 L1498.3,107.1 L1507.8,100.2 L1517.2,94.3 L1526.7,89.4 L1536.1,85.4 L1545.5,82.0 L1557.3,78.8 L1569.2,76.3 L1581.0,74.4 L1592.8,73.1 L1606.9,72.0 L1621.1,71.3 L1637.6,70.7 L1658.9,70.4 L1722.6,70.1" fill="none" stroke="#d3d3d3" stroke-width="5.8" stroke-linejoin="round" stroke-linecap="butt"/>
<path d="M967.1,721.8 L983.6,718.4 L1000.2,714.5 L1016.7,709.9 L1033.2,704.7 L1049.7,698.7 L1063.9,692.9 L1078.1,686.5 L1092.2,679.4 L1106.4,671.5 L1118.2,664.2 L1132.4,654.7 L1144.2,646.0 L1158.3,634.6 L1170.1,624.3 L1182.0,613.2 L1193.8,601.2 L1203.2,591.0 L1212.6,580.2 L1222.1,568.8 L1231.5,556.9 L1241.0,544.4 L1250.4,531.3 L1259.9,517.6 L1271.7,499.8 L1288.2,473.6 L1307.1,442.0 L1326.0,409.3 L1366.1,338.5 L1387.4,302.1 L1396.8,286.5 L1406.2,271.5 L1415.7,256.9 L1425.1,243.0 L1434.6,229.8 L1444.0,217.2 L1453.5,205.4 L1462.9,194.3 L1472.4,183.9 L1481.8,174.3 L1491.2,165.5 L1500.7,157.3 L1510.1,149.9 L1521.9,141.5 L1531.4,135.5 L1543.2,128.9 L1555.0,123.0 L1566.8,118.0 L1578.6,113.6 L1590.4,109.8 L1602.2,106.6 L1616.4,103.4 L1630.5,100.7 L1647.1,98.2 L1663.6,96.3 L1682.5,94.6 L1701.4,93.3 L1722.6,92.3" fill="none" stroke="#d3d3d3" stroke-width="5.8" stroke-linejoin="round" stroke-linecap="butt"/>
<path d="M967.1,750.0 L983.6,741.8 L1002.5,731.9 L1021.4,721.3 L1042.7,708.7 L1061.5,696.9 L1082.8,683.1 L1104.0,668.6 L1122.9,655.1 L1141.8,641.0 L1158.3,628.1 L1174.9,614.5 L1189.0,602.2 L1203.2,589.3 L1217.4,575.7 L1231.5,561.3 L1243.3,548.6 L1255.1,535.3 L1264.6,524.1 L1276.4,509.5 L1285.8,497.2 L1295.3,484.5 L1304.7,471.3 L1314.2,457.5 L1326.0,439.6 L1342.5,413.3 L1361.4,381.6 L1377.9,352.9 L1415.7,286.1 L1432.2,257.6 L1448.7,230.6 L1462.9,208.9 L1470.0,198.7 L1477.1,189.0 L1484.2,179.8 L1491.2,171.1 L1498.3,163.0 L1505.4,155.3 L1512.5,148.3 L1519.6,141.7 L1529.0,133.9 L1538.5,126.9 L1547.9,120.8 L1557.3,115.5 L1566.8,111.0 L1576.2,107.1 L1585.7,103.8 L1597.5,100.5 L1609.3,97.9 L1621.1,95.8 L1632.9,94.3 L1647.1,92.9 L1663.6,91.8 L1680.1,91.1 L1699.0,90.6 L1722.6,90.3" fill="none" stroke="#d3d3d3" stroke-width="5.8" stroke-linejoin="round" stroke-linecap="butt"/>
<path d="M967.1,751.5 L986.0,744.6 L1007.2,736.3 L1028.5,727.5 L1047.4,719.3 L1068.6,709.6 L1087.5,700.5 L1106.4,690.9 L1125.3,680.9 L1141.8,671.7 L1158.3,661.9 L1174.9,651.6 L1189.0,642.3 L1203.2,632.4 L1217.4,622.0 L1231.5,610.9 L1245.7,599.1 L1259.9,586.6 L1274.0,573.2 L1288.2,559.0 L1300.0,546.3 L1314.2,530.3 L1326.0,516.1 L1337.8,501.2 L1349.6,485.6 L1361.4,469.2 L1373.2,452.1 L1385.0,434.4 L1396.8,416.0 L1418.1,381.7 L1472.4,291.8 L1486.5,269.2 L1498.3,251.1 L1512.5,230.5 L1526.7,211.5 L1533.7,202.5 L1540.8,194.0 L1547.9,186.0 L1555.0,178.4 L1562.1,171.3 L1571.5,162.5 L1581.0,154.6 L1590.4,147.4 L1599.8,141.1 L1609.3,135.4 L1618.7,130.4 L1628.2,126.1 L1637.6,122.3 L1649.4,118.3 L1658.9,115.7 L1670.7,112.9 L1682.5,110.7 L1694.3,109.0 L1708.5,107.4 L1722.6,106.2" fill="none" stroke="#d3d3d3" stroke-width="5.8" stroke-linejoin="round" stroke-linecap="butt"/>
<path d="M967.1,758.9 L988.3,756.2 L1000.2,754.3 L1012.0,752.1 L1033.2,747.6 L1054.5,742.1 L1075.7,735.8 L1097.0,728.5 L1118.2,720.3 L1139.5,711.2 L1160.7,701.1 L1182.0,690.1 L1203.2,678.2 L1224.4,665.3 L1245.7,651.4 L1264.6,638.1 L1283.5,623.7 L1302.4,608.3 L1318.9,593.6 L1335.4,577.9 L1349.6,563.3 L1363.7,547.6 L1377.9,530.6 L1389.7,515.5 L1403.9,496.0 L1415.7,478.5 L1427.5,459.9 L1436.9,444.3 L1448.7,423.7 L1460.5,402.0 L1470.0,384.0 L1481.8,360.8 L1526.7,270.0 L1538.5,247.2 L1547.9,229.8 L1559.7,209.5 L1569.2,194.6 L1576.2,184.4 L1581.0,178.0 L1590.4,166.2 L1595.1,160.9 L1602.2,153.6 L1609.3,147.1 L1616.4,141.4 L1623.5,136.4 L1630.5,132.1 L1637.6,128.4 L1644.7,125.2 L1651.8,122.6 L1661.2,119.8 L1668.3,118.2 L1677.8,116.4 L1687.2,115.1 L1696.6,114.2 L1708.5,113.4 L1722.6,112.9" fill="none" stroke="#d3d3d3" stroke-width="5.8" stroke-linejoin="round" stroke-linecap="butt"/>
<path d="M967.1,773.1 L997.8,767.5 L1026.1,761.8 L1054.5,755.4 L1082.8,748.4 L1108.8,741.2 L1132.4,734.1 L1156.0,726.2 L1179.6,717.6 L1200.8,709.0 L1222.1,699.7 L1243.3,689.3 L1262.2,679.2 L1281.1,668.2 L1297.6,657.7 L1307.1,651.4 L1316.5,644.7 L1333.1,632.3 L1347.2,620.8 L1361.4,608.5 L1375.6,595.5 L1389.7,581.5 L1403.9,566.7 L1415.7,553.6 L1429.9,537.1 L1444.0,519.8 L1455.8,504.6 L1467.6,488.9 L1479.4,472.7 L1491.2,456.1 L1514.9,421.7 L1564.4,347.8 L1588.0,313.9 L1599.8,297.7 L1611.7,282.1 L1623.5,267.2 L1632.9,256.0 L1644.7,242.6 L1656.5,230.3 L1668.3,218.9 L1677.8,210.4 L1687.2,202.6 L1699.0,193.7 L1710.8,185.8 L1722.6,178.7" fill="none" stroke="#d3d3d3" stroke-width="5.8" stroke-linejoin="round" stroke-linecap="butt"/>
<path d="M967.1,788.1 L1002.5,785.6 L1037.9,782.7 L1071.0,779.4 L1101.7,775.9 L1130.0,772.2 L1158.3,767.9 L1184.3,763.4 L1210.3,758.2 L1236.3,752.4 L1259.9,746.5 L1283.5,739.8 L1304.7,733.1 L1326.0,725.8 L1347.2,717.6 L1368.5,708.7 L1389.7,698.9 L1408.6,689.4 L1427.5,679.2 L1446.4,668.1 L1465.3,656.3 L1484.2,643.5 L1503.0,630.0 L1521.9,615.5 L1540.8,600.3 L1557.3,586.2 L1576.2,569.5 L1595.1,552.0 L1616.4,531.6 L1635.3,512.8 L1656.5,491.2 L1722.6,422.5" fill="none" stroke="#d3d3d3" stroke-width="5.8" stroke-linejoin="round" stroke-linecap="butt"/>
<path d="M967.1,791.5 L1000.2,789.3 L1033.2,786.7 L1063.9,784.0 L1094.6,780.7 L1122.9,777.2 L1151.3,773.3 L1177.2,769.1 L1203.2,764.5 L1229.2,759.2 L1252.8,753.8 L1276.4,747.8 L1297.6,741.9 L1318.9,735.4 L1340.1,728.3 L1361.4,720.6 L1382.6,712.2 L1403.9,703.1 L1422.8,694.3 L1444.0,683.8 L1462.9,673.8 L1481.8,663.2 L1500.7,651.9 L1519.6,640.0 L1540.8,625.9 L1559.7,612.7 L1581.0,597.2 L1599.8,582.9 L1621.1,566.1 L1642.3,548.9 L1666.0,529.2 L1691.9,507.0 L1722.6,480.4" fill="none" stroke="#d3d3d3" stroke-width="5.8" stroke-linejoin="round" stroke-linecap="butt"/>
<path d="M967.1,770.7 L1061.5,763.3 L1292.9,744.1 L1359.0,739.0 L1420.4,734.6 L1496.0,729.7 L1569.2,725.6 L1644.7,721.9 L1722.6,718.8" fill="none" stroke="#d3d3d3" stroke-width="5.8" stroke-linejoin="round" stroke-linecap="butt"/>
<path d="M967.1,511.6 L995.4,468.0 L1004.9,452.7 L1012.0,440.6 L1019.0,427.7 L1026.1,413.9 L1033.2,399.1 L1040.3,383.0 L1047.4,365.8 L1052.1,353.5 L1056.8,340.7 L1063.9,320.5 L1075.7,284.4 L1097.0,216.1 L1106.4,187.7 L1111.1,174.6 L1115.8,162.3 L1120.6,150.9 L1125.3,140.4 L1130.0,130.9 L1134.7,122.4 L1139.5,114.7 L1141.8,111.3 L1146.5,104.9 L1151.3,99.4 L1158.3,92.4 L1163.1,88.5 L1170.1,83.6 L1177.2,79.7 L1184.3,76.6 L1193.8,73.6 L1203.2,71.3 L1212.6,69.7 L1224.4,68.3 L1238.6,67.2 L1252.8,66.6 L1276.4,66.1 L1330.7,66.1 L1392.1,65.3 L1467.6,64.8 L1573.9,64.4 L1722.6,64.3" fill="none" stroke="#000000" stroke-width="5.8" stroke-linejoin="round" stroke-linecap="butt"/>
<path d="M967.1,582.2 L978.9,576.6 L993.1,570.4 L1007.2,564.5 L1021.4,559.1 L1037.9,553.2 L1054.5,547.7 L1071.0,542.4 L1089.9,536.8 L1108.8,531.6 L1130.0,526.0 L1151.3,520.7 L1172.5,515.7 L1193.8,510.9 L1217.4,505.9 L1264.6,496.7 L1314.2,487.9 L1366.1,479.7 L1420.4,472.0 L1474.7,465.1 L1531.4,458.7 L1592.8,452.5 L1656.5,446.9 L1722.6,441.8" fill="none" stroke="#0000ff" stroke-width="5.8" stroke-linejoin="round" stroke-linecap="butt"/>
<path d="M967.1,767.9 L995.4,760.6 L1023.8,752.6 L1054.5,743.3 L1082.8,734.2 L1108.8,725.2 L1134.7,715.7 L1158.3,706.4 L1182.0,696.4 L1203.2,686.6 L1222.1,677.2 L1241.0,666.9 L1257.5,657.1 L1274.0,646.4 L1288.2,636.5 L1304.7,623.8 L1318.9,612.0 L1333.1,599.2 L1344.9,587.7 L1359.0,572.8 L1370.8,559.5 L1382.6,545.2 L1394.4,530.0 L1406.2,513.8 L1418.1,496.7 L1427.5,482.3 L1439.3,463.4 L1448.7,447.7 L1460.5,427.4 L1481.8,389.3 L1529.0,302.0 L1540.8,280.9 L1552.6,260.7 L1564.4,241.4 L1576.2,223.4 L1588.0,206.7 L1599.8,191.5 L1606.9,183.2 L1614.0,175.4 L1621.1,168.1 L1628.2,161.4 L1635.3,155.2 L1642.3,149.6 L1649.4,144.5 L1656.5,139.8 L1663.6,135.6 L1670.7,131.9 L1677.8,128.5 L1687.2,124.6 L1694.3,122.1 L1703.7,119.1 L1713.2,116.7 L1722.6,114.6" fill="none" stroke="#00ff00" stroke-width="5.8" stroke-linejoin="round" stroke-linecap="butt"/>
<path d="M967.1,800.9 L1104.0,799.4 L1222.1,797.4 L1326.0,794.9 L1375.6,793.3 L1420.4,791.6 L1462.9,789.7 L1505.4,787.5 L1545.5,785.2 L1583.3,782.7 L1621.1,779.8 L1656.5,776.7 L1689.6,773.6 L1722.6,770.0" fill="none" stroke="#ff00ff" stroke-width="5.8" stroke-linejoin="round" stroke-linecap="butt"/>
</g>
<line x1="967.10" y1="49.20" x2="967.10" y2="804.10" stroke="#333333" stroke-width="1.9"/>
<line x1="966.20" y1="803.20" x2="1770.00" y2="803.20" stroke="#333333" stroke-width="1.9"/>
<line x1="963.60" y1="803.20" x2="967.10" y2="803.20" stroke="#333333" stroke-width="1.4"/>
<line x1="963.60" y1="618.45" x2="967.10" y2="618.45" stroke="#333333" stroke-width="1.4"/>
<line x1="963.60" y1="433.70" x2="967.10" y2="433.70" stroke="#333333" stroke-width="1.4"/>
<line x1="963.60" y1="248.95" x2="967.10" y2="248.95" stroke="#333333" stroke-width="1.4"/>
<line x1="963.60" y1="64.20" x2="967.10" y2="64.20" stroke="#333333" stroke-width="1.4"/>
<line x1="967.10" y1="803.20" x2="967.10" y2="806.70" stroke="#333333" stroke-width="1.4"/>
<line x1="1155.98" y1="803.20" x2="1155.98" y2="806.70" stroke="#333333" stroke-width="1.4"/>
<line x1="1344.86" y1="803.20" x2="1344.86" y2="806.70" stroke="#333333" stroke-width="1.4"/>
<line x1="1533.74" y1="803.20" x2="1533.74" y2="806.70" stroke="#333333" stroke-width="1.4"/>
<line x1="1722.62" y1="803.20" x2="1722.62" y2="806.70" stroke="#333333" stroke-width="1.4"/>
<text x="0" y="0" transform="translate(959.10,803.20) rotate(-90)" text-anchor="middle" font-size="26.5" fill="#000">0</text>
<text x="0" y="0" transform="translate(959.10,618.45) rotate(-90)" text-anchor="middle" font-size="26.5" fill="#000">25</text>
<text x="0" y="0" transform="translate(959.10,433.70) rotate(-90)" text-anchor="middle" font-size="26.5" fill="#000">50</text>
<text x="0" y="0" transform="translate(959.10,248.95) rotate(-90)" text-anchor="middle" font-size="26.5" fill="#000">75</text>
<text x="0" y="0" transform="translate(959.10,64.20) rotate(-90)" text-anchor="middle" font-size="26.5" fill="#000">100</text>
<text x="967.10" y="828.3" text-anchor="middle" font-size="26.5" fill="#000">0</text>
<text x="1155.98" y="828.3" text-anchor="middle" font-size="26.5" fill="#000">20</text>
<text x="1344.86" y="828.3" text-anchor="middle" font-size="26.5" fill="#000">40</text>
<text x="1533.74" y="828.3" text-anchor="middle" font-size="26.5" fill="#000">60</text>
<text x="1722.62" y="828.3" text-anchor="middle" font-size="26.5" fill="#000">80</text>
<text transform="translate(917.80,707.70) rotate(-90)" x="0" y="0" font-size="36.6" fill="#000">Reduction on number of cases (%)</text>
<text x="1055.10" y="862.5" font-size="36.6" fill="#000">Reduction on contact rate, (1-<tspan font-family='Liberation Serif', serif>ξ</tspan>)<tspan dx="6">·</tspan><tspan dx="6">100%</tspan></text>
<text x="966.60" y="27.1" font-size="36.2" fill="#000">b</text>
<text x="1010.50" y="27.1" font-size="36.2" fill="#000">Fraction of the population tested, <tspan font-family='Liberation Serif', serif font-size="39.5">ψ</tspan><tspan dx="0.3">=0.3</tspan></text>
<rect x="31.00" y="892.2" width="118.2" height="43.9" fill="#f2f2f2"/>
<rect x="42.60" y="903.2" width="95.4" height="22.6" fill="#ff00ff"/>
<text transform="translate(158.00,932.0) scale(1,1.05)" x="0" y="0" font-size="47.2" fill="#000">Itumbiara-GO</text>
<rect x="463.10" y="892.2" width="118.2" height="43.9" fill="#f2f2f2"/>
<rect x="474.70" y="903.2" width="95.4" height="22.6" fill="#0000ff"/>
<text transform="translate(591.10,932.0) scale(1,1.05)" x="0" y="0" font-size="47.2" fill="#000">Água Branca-AL</text>
<rect x="955.20" y="892.2" width="118.2" height="43.9" fill="#f2f2f2"/>
<rect x="966.80" y="903.2" width="95.4" height="22.6" fill="#00ff00"/>
<text transform="translate(1081.20,932.0) scale(1,1.05)" x="0" y="0" font-size="47.2" fill="#000">Sobral-CE</text>
<rect x="1319.70" y="892.2" width="118.2" height="43.9" fill="#f2f2f2"/>
<rect x="1331.30" y="903.2" width="95.4" height="22.6" fill="#000000"/>
<text transform="translate(1445.20,932.0) scale(1,1.05)" x="0" y="0" font-size="47.2" fill="#000">Dourados-MS</text>
</svg>
</body></html>
